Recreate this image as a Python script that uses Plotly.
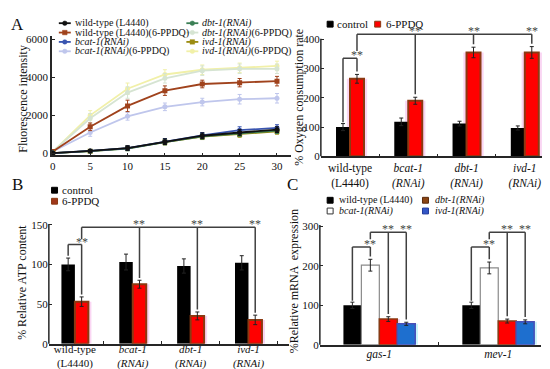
import plotly.graph_objects as go

W, H = 550, 369
FONT = "Liberation Serif, Times New Roman, serif"
AX = "#262626"
BR = "#404040"

# ---------------- data ----------------
# Panel A: fluorescence over time
time_min = [0, 5, 10, 15, 20, 25, 30]
fl_wt = [20, 130, 280, 620, 930, 1100, 1250]
fl_wt_err = [30, 60, 120, 150, 150, 150, 150]
fl_wt_ppdq = [100, 1400, 2500, 3300, 3650, 3720, 3800]
fl_wt_ppdq_err = [50, 200, 300, 250, 200, 220, 250]
fl_bcat = [20, 130, 280, 630, 950, 1220, 1340]
fl_bcat_err = [30, 60, 120, 150, 150, 180, 170]
fl_bcat_ppdq = [100, 1100, 1950, 2450, 2700, 2850, 2900]
fl_bcat_ppdq_err = [50, 200, 200, 200, 200, 250, 250]
fl_dbt = [20, 120, 260, 600, 900, 1050, 1200]
fl_dbt_err = [30, 60, 120, 150, 150, 150, 150]
fl_dbt_ppdq = [100, 1850, 3200, 3950, 4350, 4450, 4450]
fl_dbt_ppdq_err = [50, 250, 300, 250, 250, 250, 250]
fl_ivd = [20, 120, 270, 600, 880, 1000, 1160]
fl_ivd_err = [30, 60, 120, 150, 150, 150, 150]
fl_ivd_ppdq = [100, 2000, 3400, 4150, 4400, 4500, 4600]
fl_ivd_ppdq_err = [50, 250, 300, 250, 250, 250, 250]

strains = ["wild-type<br>(L4440)", "<i>bcat-1</i><br><i>(RNAi)</i>",
           "<i>dbt-1</i><br><i>(RNAi)</i>", "<i>ivd-1</i><br><i>(RNAi)</i>"]

# Panel B (top right): oxygen consumption
o2_control = [100, 118, 112, 97]
o2_control_err = [12, 13, 8, 7]
o2_ppdq = [265, 190, 355, 355]
o2_ppdq_err = [15, 12, 18, 20]

# Panel B: ATP
atp_control = [100, 103, 98, 102]
atp_control_err = [8, 10, 9, 9]
atp_ppdq = [53, 75, 35, 30]
atp_ppdq_err = [6, 5, 5, 6]

# Panel C: mRNA expression
genes = ["<i>gas-1</i>", "<i>mev-1</i>"]
mrna_wt = [100, 100]
mrna_wt_err = [8, 8]
mrna_bcat = [202, 195]
mrna_bcat_err = [15, 15]
mrna_dbt = [65, 60]
mrna_dbt_err = [6, 5]
mrna_ivd = [53, 58]
mrna_ivd_err = [4, 5]


def px(x):
    return x / W


def py(y):
    return 1 - y / H


fig = go.Figure()
shapes = []
annots = []

# ---------------- Panel A ----------------
series_A = [
    ("wild-type (L4440)", fl_wt, fl_wt_err, "#111111", "circle"),
    ("wild-type (L4440)(6-PPDQ)", fl_wt_ppdq, fl_wt_ppdq_err, "#A0421C", "square"),
    ("<i>bcat-1(RNAi)</i>", fl_bcat, fl_bcat_err, "#3A55B0", "circle"),
    ("<i>bcat-1(RNAi)</i>(6-PPDQ)", fl_bcat_ppdq, fl_bcat_ppdq_err, "#BFC6EC", "circle"),
    ("<i>dbt-1(RNAi)</i>", fl_dbt, fl_dbt_err, "#3B7F55", "circle"),
    ("<i>dbt-1(RNAi)</i>(6-PPDQ)", fl_dbt_ppdq, fl_dbt_ppdq_err, "#D6E4D2", "circle"),
    ("<i>ivd-1(RNAi)</i>", fl_ivd, fl_ivd_err, "#9C8C12", "square"),
    ("<i>ivd-1(RNAi)</i>(6-PPDQ)", fl_ivd_ppdq, fl_ivd_ppdq_err, "#F1F0A8", "circle"),
]
draw_order = [7, 5, 3, 1, 6, 4, 2, 0]
for k in draw_order:
    name, vals, err, col, sym = series_A[k]
    fig.add_trace(go.Scatter(
        x=time_min, y=vals, mode="lines+markers", name=name,
        line=dict(color=col, width=1.8), marker=dict(color=col, size=5, symbol=sym),
        error_y=dict(type="data", array=err, color=col, thickness=1, width=2),
        xaxis="x", yaxis="y", showlegend=False))

# manual legend for panel A (two columns of four rows)
for k, (name, vals, err, col, sym) in enumerate(series_A):
    colx = 55 if k < 4 else 183
    tx = 63 if k < 4 else 191
    yc = 12.5 + 9.6 * (k % 4)
    shapes.append(dict(type="line", xref="paper", yref="paper",
                       x0=px(colx - 6), x1=px(colx + 6), y0=py(yc), y1=py(yc),
                       line=dict(color=col, width=1.8)))
    shapes.append(dict(type="rect" if sym == "square" else "circle",
                       xref="paper", yref="paper",
                       x0=px(colx - 2.3), x1=px(colx + 2.3), y0=py(yc + 2.3), y1=py(yc - 2.3),
                       fillcolor=col, line=dict(color=col, width=0.5)))
    annots.append(dict(x=px(tx), y=py(yc), xref="paper", yref="paper", text=name,
                       showarrow=False, xanchor="left", yanchor="middle",
                       font=dict(size=10, color="#111", family=FONT)))

# ---------------- bar helpers ----------------
def halo_bar(xs, vals, width, offset, color, xa, ya):
    fig.add_trace(go.Bar(x=xs, y=vals, width=width, offset=offset,
                         marker=dict(color=color, line=dict(width=0)),
                         xaxis=xa, yaxis=ya, showlegend=False, hoverinfo="skip"))


def bar(xs, vals, err, width, offset, fill, edge, ew, xa, ya):
    fig.add_trace(go.Bar(x=xs, y=vals, width=width, offset=offset,
                         marker=dict(color=fill, line=dict(color=edge, width=ew)),
                         error_y=dict(type="data", array=err, color="#222", thickness=1, width=2),
                         xaxis=xa, yaxis=ya, showlegend=False))


def seg(xr, yr, x0, y0, x1, y1):
    shapes.append(dict(type="line", xref=xr, yref=yr, x0=x0, y0=y0, x1=x1, y1=y1,
                       line=dict(color=BR, width=1.5)))


def stars(xr, yr, x, y):
    annots.append(dict(x=x, y=y, xref=xr, yref=yr, text="**", showarrow=False,
                       xanchor="center", yanchor="bottom", yshift=-6,
                       font=dict(size=12, color="#444444", family=FONT)))


# ---------------- Panel B top-right: O2 ----------------
bw2 = 0.24
halo_bar(strains, o2_ppdq, bw2 * 1.45, -bw2 * 0.225, "#FAD6F3", "x2", "y2")
bar(strains, o2_control, o2_control_err, bw2, -bw2, "#000000", "#000000", 0, "x2", "y2")
bar(strains, o2_ppdq, o2_ppdq_err, bw2, 0, "#FF0000", "#8B3A12", 2, "x2", "y2")
c_ctrl = [i - bw2 / 2 for i in range(4)]
c_trt = [i + bw2 / 2 for i in range(4)]
pad2 = 10
top_s2, top_l2 = 335, 417
seg("x2", "y2", c_ctrl[0], o2_control[0] + o2_control_err[0] + pad2 / 2, c_ctrl[0], top_s2)
seg("x2", "y2", c_ctrl[0], top_s2, c_trt[0], top_s2)
seg("x2", "y2", c_trt[0], top_s2, c_trt[0], o2_ppdq[0] + o2_ppdq_err[0] + pad2)
stars("x2", "y2", c_trt[0], top_s2)
seg("x2", "y2", c_trt[0], 360, c_trt[0], top_l2)
seg("x2", "y2", c_trt[0], top_l2, c_trt[3], top_l2)
for i in range(1, 4):
    seg("x2", "y2", c_trt[i], top_l2, c_trt[i], o2_ppdq[i] + o2_ppdq_err[i] + pad2)
    stars("x2", "y2", c_trt[i], top_l2)

# ---------------- Panel B: ATP ----------------
bw3 = 0.233
halo_bar(strains, atp_ppdq, bw3 * 1.45, -bw3 * 0.225, "#FAD6F3", "x3", "y3")
bar(strains, atp_control, atp_control_err, bw3, -bw3, "#000000", "#000000", 0, "x3", "y3")
bar(strains, atp_ppdq, atp_ppdq_err, bw3, 0, "#FF0000", "#8B3A12", 2, "x3", "y3")
a_ctrl = [i - bw3 / 2 for i in range(4)]
a_trt = [i + bw3 / 2 for i in range(4)]
pad3 = 3
top_s3, top_l3 = 125, 147
seg("x3", "y3", a_ctrl[0], atp_control[0] + atp_control_err[0] + pad3, a_ctrl[0], top_s3)
seg("x3", "y3", a_ctrl[0], top_s3, a_trt[0], top_s3)
seg("x3", "y3", a_trt[0], top_s3, a_trt[0], atp_ppdq[0] + atp_ppdq_err[0] + pad3)
stars("x3", "y3", a_trt[0], top_s3)
seg("x3", "y3", a_trt[0], 132, a_trt[0], top_l3)
seg("x3", "y3", a_trt[0], top_l3, a_trt[3], top_l3)
for i in range(1, 4):
    seg("x3", "y3", a_trt[i], top_l3, a_trt[i], atp_ppdq[i] + atp_ppdq_err[i] + pad3)
    stars("x3", "y3", a_trt[i], top_l3)

# ---------------- Panel C: mRNA ----------------
bw4 = 0.151
halo_bar(genes, mrna_dbt, bw4 * 1.3, -bw4 * 0.15, "#FAD6F3", "x4", "y4")
halo_bar(genes, mrna_ivd, bw4 * 1.3, bw4 * 0.85, "#C8F4FA", "x4", "y4")
bar(genes, mrna_wt, mrna_wt_err, bw4, -2 * bw4, "#000000", "#000000", 0, "x4", "y4")
bar(genes, mrna_bcat, mrna_bcat_err, bw4, -bw4, "#FFFFFF", "#8A8A8A", 1.2, "x4", "y4")
bar(genes, mrna_dbt, mrna_dbt_err, bw4, 0, "#FF0000", "#8B3A12", 1.5, "x4", "y4")
bar(genes, mrna_ivd, mrna_ivd_err, bw4, bw4, "#1E6FCF", "#4A4FB8", 1.5, "x4", "y4")
pad4 = 7
top_s4, top_l4 = 248, 286
for i in range(2):
    cw, cb, cd, cv = i - 1.5 * bw4, i - 0.5 * bw4, i + 0.5 * bw4, i + 1.5 * bw4
    seg("x4", "y4", cw, mrna_wt[i] + mrna_wt_err[i] + pad4 / 2, cw, top_s4)
    seg("x4", "y4", cw, top_s4, cb, top_s4)
    seg("x4", "y4", cb, top_s4, cb, mrna_bcat[i] + mrna_bcat_err[i] + pad4)
    stars("x4", "y4", cb, top_s4)
    seg("x4", "y4", cb, 268, cb, top_l4)
    seg("x4", "y4", cb, top_l4, cv, top_l4)
    seg("x4", "y4", cd, top_l4, cd, mrna_dbt[i] + mrna_dbt_err[i] + pad4)
    seg("x4", "y4", cv, top_l4, cv, mrna_ivd[i] + mrna_ivd_err[i] + pad4)
    stars("x4", "y4", cd, top_l4)
    stars("x4", "y4", cv, top_l4)

# ---------------- bar legends ----------------
def sq(xc, yc, fill, edge):
    shapes.append(dict(type="rect", xref="paper", yref="paper",
                       x0=px(xc - 3), x1=px(xc + 3), y0=py(yc + 3), y1=py(yc - 3),
                       fillcolor=fill, line=dict(color=edge, width=1)))


def ltxt(x, y, t, size=11):
    annots.append(dict(x=px(x), y=py(y), xref="paper", yref="paper", text=t,
                       showarrow=False, xanchor="left", yanchor="middle",
                       font=dict(size=size, color="#111", family=FONT)))


sq(321.3, 13.5, "#000000", "#000000"); ltxt(326.5, 13.5, "control")
sq(369, 13.5, "#FF0000", "#8B3A12"); ltxt(375, 13.5, "6-PPDQ")
sq(44.7, 183.7, "#000000", "#000000"); ltxt(50, 183.7, "control")
sq(44.7, 195, "#A0381A", "#8B3A12"); ltxt(50, 195, "6-PPDQ")
sq(321.3, 194, "#000000", "#000000"); ltxt(328, 194, "wild-type (L4440)", 10)
sq(321.3, 205, "#FFFFFF", "#333333"); ltxt(328, 205, "<i>bcat-1(RNAi)</i>", 10)
sq(417, 194, "#8B4513", "#5A2A0A"); ltxt(425, 194, "<i>dbt-1(RNAi)</i>", 10)
sq(417, 205, "#3356C6", "#223A9A"); ltxt(425, 205, "<i>ivd-1(RNAi)</i>", 10)

# ---------------- axis titles & panel letters ----------------
def ytitle(x, y, t):
    annots.append(dict(x=px(x), y=py(y), xref="paper", yref="paper", text=t,
                       showarrow=False, textangle=-90, xanchor="center", yanchor="middle",
                       font=dict(size=12, color="#111", family=FONT)))


ytitle(13, 90, "Fluorescence intensity")
ytitle(290, 88, "% Oxygen consumption rate")
ytitle(12.7, 278, "% Relative ATP content")
ytitle(285, 277, "%Relative mRNA  expression")
for lx, ly, t in [(8, 14, "A"), (8, 178, "B"), (284, 178, "C")]:
    annots.append(dict(x=px(lx), y=py(ly), xref="paper", yref="paper", text=t,
                       showarrow=False, xanchor="center", yanchor="middle",
                       font=dict(size=17, color="#111", family=FONT)))

# ---------------- custom y axis lines for bar panels ----------------
def yline(xdom0, ydom, yrange, ytop):
    frac = (ytop - yrange[0]) / (yrange[1] - yrange[0])
    y0p, y1p = ydom
    shapes.append(dict(type="line", xref="paper", yref="paper",
                       x0=xdom0, x1=xdom0, y0=y0p, y1=y0p + frac * (y1p - y0p),
                       line=dict(color=AX, width=1.5)))


common = dict(showgrid=False, zeroline=False, linecolor=AX, linewidth=1.5,
              ticks="inside", ticklen=3, tickcolor=AX, tickwidth=1,
              tickfont=dict(size=11, color="#111"))

dA_x = [px(42), px(282)]; dA_y = [py(148), py(26)]
d2_x = [px(312), px(550)]; d2_y = [py(149), py(17)]; r2 = [0, 440]
d3_x = [px(39), px(280)]; d3_y = [py(341), py(211)]; r3 = [0, 160]
d4_x = [px(311), px(533)]; d4_y = [py(342), py(217)]; r4 = [0, 310]

yline(d2_x[0], d2_y, r2, 402)
yline(d3_x[0], d3_y, r3, 151)
yline(d4_x[0], d4_y, r4, 304)

cat_common = dict(common, type="category", tickson="boundaries",
                  tickfont=dict(size=11.5, color="#111"))

fig.update_layout(
    width=W, height=H, margin=dict(l=0, r=0, t=0, b=0),
    paper_bgcolor="white", plot_bgcolor="white",
    font=dict(family=FONT, color="#111"),
    barmode="overlay", showlegend=False,
    xaxis=dict(common, domain=dA_x, range=[-0.13, 31.87], tickvals=time_min,
               showline=True, anchor="y"),
    yaxis=dict(common, domain=dA_y, range=[-103, 6154], tickvals=[0, 2000, 4000, 6000],
               showline=True, anchor="x"),
    xaxis2=dict(cat_common, domain=d2_x, range=[-0.5, 3.57], showline=True, anchor="y2"),
    yaxis2=dict(common, domain=d2_y, range=r2, tickvals=[0, 100, 200, 300, 400],
                showline=False, anchor="x2"),
    xaxis3=dict(cat_common, domain=d3_x, range=[-0.45, 3.7], showline=True, anchor="y3",
                tickfont=dict(size=11, color="#111"), ticklabelstandoff=-6),
    yaxis3=dict(common, domain=d3_y, range=r3, tickvals=[0, 50, 100, 150],
                showline=False, anchor="x3"),
    xaxis4=dict(cat_common, domain=d4_x, range=[-0.5, 1.36], showline=True, anchor="y4",
                ticklabelstandoff=-2),
    yaxis4=dict(common, domain=d4_y, range=r4, tickvals=[0, 100, 200, 300],
                showline=False, anchor="x4"),
    shapes=shapes, annotations=annots,
)

fig.write_html("out.html")
